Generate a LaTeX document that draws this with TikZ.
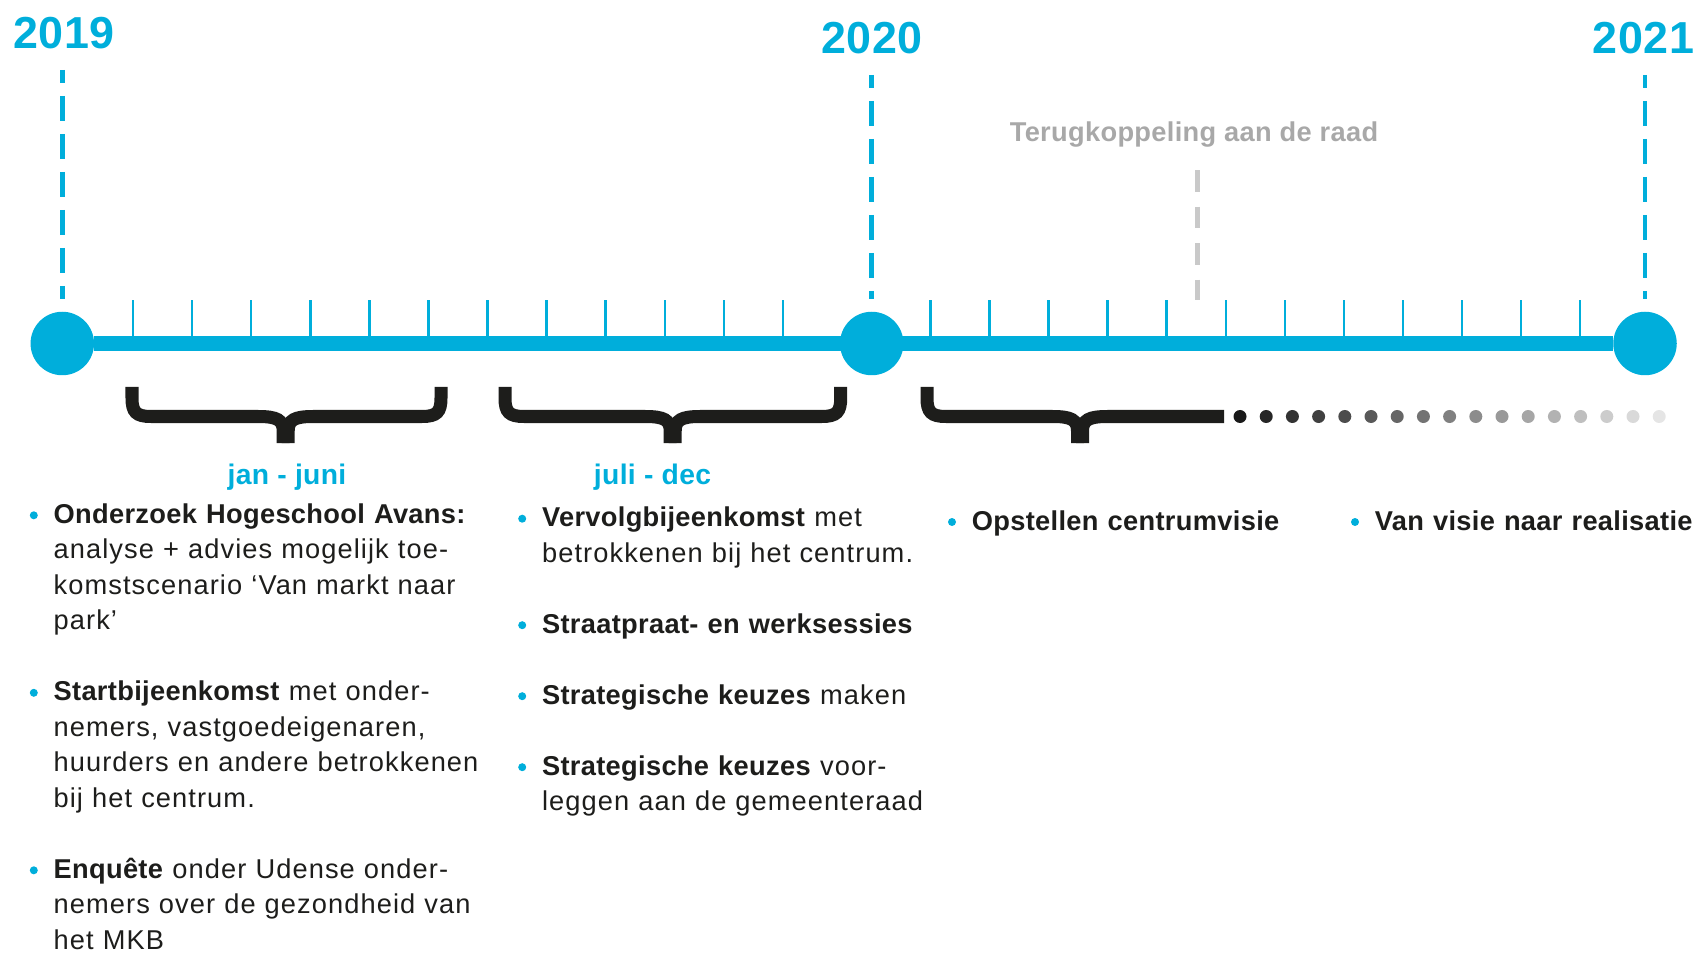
\documentclass[tikz,border=0pt]{standalone}
\usepackage{fontspec}
\setmainfont{Liberation Sans}[UprightFeatures={LetterSpace=4},BoldFeatures={LetterSpace=1.2}]
\usepackage{tikz}
\usetikzlibrary{calc}

\definecolor{tlblue}{HTML}{00AEDB}
\definecolor{textdark}{HTML}{1D1D1B}
\definecolor{raadgray}{HTML}{A8A8A8}
\definecolor{dashgray}{HTML}{C9C9C9}

\tikzset{
	yearnode/.style={circle,fill=tlblue,inner sep=0pt,minimum size=1.27cm},
	yearlabel/.style={anchor=base,inner sep=0pt,text=tlblue,font=\fontsize{25.5}{30}\selectfont\bfseries},
	yeardash/.style={tlblue,line width=2.8pt,dash pattern=on 0.5cm off 0.26cm,dash phase=0.24cm},
	raaddash/.style={dashgray,line width=2.8pt,dash pattern=on 0.43cm off 0.3cm},
	mainline/.style={tlblue,line width=8pt},
	monthtick/.style={tlblue,line width=1.4pt},
	bracket/.style={textdark,line width=7.4pt},
	halflabel/.style={anchor=base,inner sep=0pt,text=tlblue,font=\fontsize{16.1}{20}\selectfont\bfseries},
	entry/.style={anchor=base west,inner sep=0pt,text width=9cm,align=left,text=textdark,font=\fontsize{15.5}{20.2}\selectfont},
	bulletdot/.style={fill=tlblue}
}

\begin{document}
\begin{tikzpicture}
		\useasboundingbox (0,0) rectangle (33.92,19.04);
		\node[yearnode] (y19) at (1.246,12.17) {};
		\node[yearnode] (y20) at (17.434,12.17) {};
		\node[yearnode] (y21) at (32.9,12.17) {};
		\draw[mainline] (y19) -- (y21);
		\foreach \i in {0,...,11} {
			\draw[monthtick] (2.66+1.1818*\i,12.17) -- ++(0,0.87);
			\draw[monthtick] (18.61+1.1809*\i,12.17) -- ++(0,0.87);
		}
		\node[yearlabel] (lab19) at (1.28,18.06) {2019};
		\node[yearlabel] (lab20) at (17.44,17.96) {2020};
		\node[yearlabel] (lab21) at (32.87,17.96) {2021};
		\draw[yeardash,shorten <=0.4cm,shorten >=0.24cm] (y19.north |- lab19.south) -- (y19.north);
		\draw[yeardash,shorten <=0.4cm,shorten >=0.24cm] (y20.north |- lab20.south) -- (y20.north);
		\draw[yeardash,shorten <=0.4cm,shorten >=0.24cm] (y21.north |- lab21.south) -- (y21.north);
		\node[anchor=base,inner sep=0pt,text=raadgray,font=\fontsize{15.5}{19}\selectfont\bfseries] (raad) at (23.88,16.21) {Terugkoppeling aan de raad};
		\coordinate (raadend) at (23.95,13.04);
		\draw[raaddash,shorten <=0.45cm] (raadend |- raad.south) -- (raadend);
		\foreach \a/\m/\b in {2.64/5.714/8.82,10.10/13.454/16.814} {
			\draw[bracket] (\a,11.30) -- (\a,11.08) .. controls (\a,10.80) and (\a+0.08,10.71) .. (\a+0.38,10.71)
				-- (\m-0.55,10.71) .. controls (\m-0.17,10.71) and (\m-0.05,10.64) .. (\m-0.05,10.42) -- (\m-0.05,10.18);
			\draw[bracket] (\b,11.30) -- (\b,11.08) .. controls (\b,10.80) and (\b-0.08,10.71) .. (\b-0.38,10.71)
				-- (\m+0.55,10.71) .. controls (\m+0.17,10.71) and (\m+0.05,10.64) .. (\m+0.05,10.42) -- (\m+0.05,10.18);
		}
		\draw[bracket] (18.54,11.30) -- (18.54,11.08) .. controls (18.54,10.80) and (18.62,10.71) .. (18.92,10.71)
			-- (21.05,10.71) .. controls (21.43,10.71) and (21.55,10.64) .. (21.55,10.42) -- (21.55,10.18);
		\draw[bracket] (24.48,10.71) -- (22.15,10.71) .. controls (21.77,10.71) and (21.65,10.64) .. (21.65,10.42) -- (21.65,10.18);
		\foreach \i [evaluate=\i as \g using int(90-5*\i)] in {0,...,16}
			\fill[black!\g] (24.8+0.524*\i,10.71) circle (0.13);
		\node[halflabel] (janjuni) at (5.74,9.36) {jan - juni};
		\node[halflabel] (julidec) at (13.05,9.36) {juli - dec};
		\node[entry] (c1a) at (1.066,8.574) {\textbf{Onderzoek Hogeschool Avans:}\\analyse + advies mogelijk toe-\\komstscenario ‘Van markt naar\\park’};
		\node[entry] (c1b) at (1.066,5.024) {\textbf{Startbijeenkomst} met onder-\\nemers, vastgoedeigenaren,\\huurders en andere betrokkenen\\bij het centrum.};
		\node[entry] (c1c) at (1.066,1.474) {\textbf{Enquête} onder Udense onder-\\nemers over de gezondheid van\\het MKB};
		\node[entry] (c2a) at (10.834,8.506) {\textbf{Vervolgbijeenkomst} met\\betrokkenen bij het centrum.};
		\node[entry] (c2b) at (10.834,6.376) {\textbf{Straatpraat- en werksessies}};
		\node[entry] (c2c) at (10.834,4.956) {\textbf{Strategische keuzes} maken};
		\node[entry] (c2d) at (10.834,3.536) {\textbf{Strategische keuzes} voor-\\leggen aan de gemeenteraad};
		\node[entry] (c3a) at (19.43,8.44) {\textbf{Opstellen centrumvisie}};
		\node[entry] (c4a) at (27.49,8.44) {\textbf{Van visie naar realisatie}};
		\foreach \n in {c1a,c1b,c1c,c2a,c2b,c2c,c2d,c3a,c4a}
			\fill[bulletdot] ($(\n.base west)+(-0.39,0.16)$) circle (0.08);
	\end{tikzpicture}
\end{document}
